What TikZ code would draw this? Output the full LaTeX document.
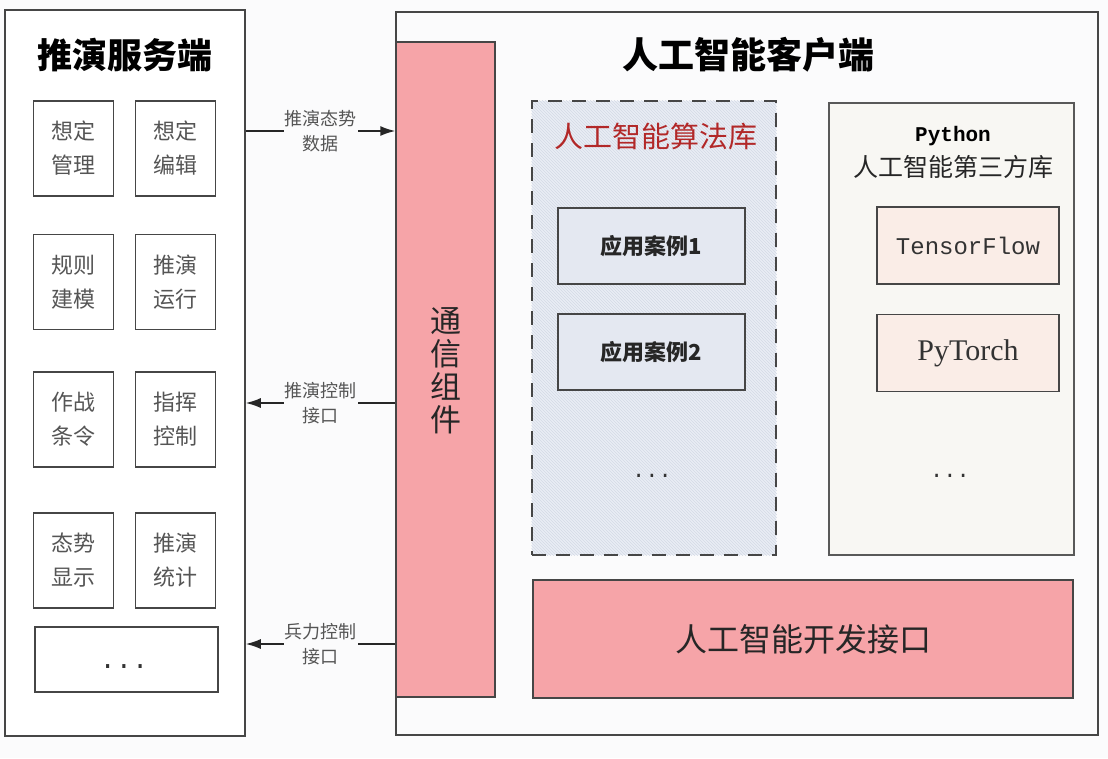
\documentclass[tikz,border=0pt]{standalone}
\usepackage{fontspec}
\setmainfont{Noto Sans CJK SC}
\newfontfamily\cjk{Noto Sans CJK SC}
\newfontfamily\monof{Liberation Mono}
\newfontfamily\seriff{Liberation Serif}
\usetikzlibrary{arrows.meta,patterns}
\definecolor{bgc}{RGB}{251,251,252}
\definecolor{pinkc}{RGB}{246,164,168}
\definecolor{libbg}{RGB}{233,237,245}
\definecolor{appbg}{RGB}{228,232,241}
\definecolor{pybg}{RGB}{248,247,243}
\definecolor{tfbg}{RGB}{250,237,231}
\definecolor{edgec}{RGB}{70,70,70}
\definecolor{txtg}{RGB}{85,85,85}
\definecolor{redt}{RGB}{178,40,40}
\definecolor{hatchc}{RGB}{212,218,230}
\tikzset{
  box/.style={draw=edgec, line width=1.5pt, inner sep=0pt, rectangle},
  smallbox/.style={box, fill=white, minimum width=80pt, minimum height=95pt, align=center,
    font={\fontsize{22}{34}\selectfont}, text=txtg},
  appbox/.style={box, fill=appbg, minimum width=187pt, minimum height=76pt,
    font={\fontsize{22}{26}\selectfont\bfseries}, text=black!85},
  libbox/.style={box, fill=tfbg, minimum width=182pt, minimum height=77pt, text=black!80},
  arrlabel/.style={fill=bgc, inner xsep=1pt, inner ysep=1pt, align=center,
    font={\fontsize{18}{25}\selectfont}, text=txtg},
  conn/.style={line width=1.5pt, draw=black!85},
  tip/.style={-{Latex[length=15pt,width=10pt]}},
}
\begin{document}
\begin{tikzpicture}[x=1pt,y=-1pt]
\useasboundingbox[fill=bgc] (0,0) rectangle (1108,758);
% left server box
\node[box, fill=white, minimum width=240pt, minimum height=726pt] (server) at (125,373) {};
\node[font={\fontsize{35}{40}\selectfont\bfseries}] (servertitle) at (125,55) {推演服务端};
\node[smallbox] (s11) at (73.5,148.5) {想定\\管理};
\node[smallbox] (s12) at (175.5,148.5) {想定\\编辑};
\node[smallbox] (s21) at (73.5,282) {规则\\建模};
\node[smallbox] (s22) at (175.5,282) {推演\\运行};
\node[smallbox] (s31) at (73.5,419.5) {作战\\条令};
\node[smallbox] (s32) at (175.5,419.5) {指挥\\控制};
\node[smallbox] (s41) at (73.5,560.5) {态势\\显示};
\node[smallbox] (s42) at (175.5,560.5) {推演\\统计};
\node[box, fill=white, minimum width=183pt, minimum height=65pt] (sdots) at (126.5,659.5) {};
\node[font={\fontsize{27}{30}\selectfont\monof}, text=black!80] (sdotst) at (124,667) {...};
% right client box
\node[box, fill=bgc, minimum width=702pt, minimum height=723pt] (client) at (747,373.5) {};
\node[font={\fontsize{36}{40}\selectfont\bfseries}] (clienttitle) at (748,55) {人工智能客户端};
% comm component
\node[box, fill=pinkc, minimum width=99pt, minimum height=655pt] (comm) at (445.5,369.5) {};
\node[align=center, font={\fontsize{31}{33}\selectfont}, text=black!85] (commt) at (445.5,371) {通\\信\\组\\件};
% algorithm library (dashed)
\node[box, dashed, dash pattern=on 14pt off 10pt, fill=libbg, minimum width=244pt, minimum height=454pt] (alglib) at (654,328) {};
\fill[pattern=north west lines, pattern color=hatchc] (alglib.north west) rectangle (alglib.south east);
\node[box, dashed, dash pattern=on 14pt off 10pt, minimum width=244pt, minimum height=454pt] (alglibb) at (654,328) {};
\node[font={\fontsize{29}{32}\selectfont}, text=redt] (algtitle) at (656,136) {人工智能算法库};
\node[appbox] (app1) at (651.5,246) {应用案例1};
\node[appbox] (app2) at (651.5,352) {应用案例2};
\node[font={\fontsize{22}{24}\selectfont\monof}, text=black!80] (appdots) at (652,476) {...};
% python library
\node[box, draw=black!65, fill=pybg, minimum width=245pt, minimum height=452pt] (pylib) at (951.5,329) {};
\node[font={\fontsize{21}{24}\selectfont\monof\bfseries}] (pytitle1) at (953,136) {Python};
\node[font={\fontsize{25}{28}\selectfont}, text=black!85] (pytitle2) at (953,167) {人工智能第三方库};
\node[libbox, font={\fontsize{24}{28}\selectfont\monof}] (tf) at (968,245.5) {TensorFlow};
\node[libbox, font={\fontsize{30}{32}\selectfont\seriff}] (pt) at (968,353) {PyTorch};
\node[font={\fontsize{22}{24}\selectfont\monof}, text=black!80] (pydots) at (950,476) {...};
% AI dev interface
\node[box, fill=pinkc, minimum width=540pt, minimum height=118pt, font={\fontsize{32}{36}\selectfont}, text=black!85] (dev) at (803,639) {人工智能开发接口};
% connectors
\coordinate (a1l) at (server.east |- 0,131);
\coordinate (a1r) at (comm.west |- 0,131);
\draw[conn, tip] (a1l) -- node[arrlabel] (lab1) {推演态势\\数据} (a1r);
\coordinate (a2l) at (server.east |- 0,403);
\coordinate (a2r) at (comm.west |- 0,403);
\draw[conn, tip] (a2r) -- node[arrlabel] (lab2) {推演控制\\接口} (a2l);
\coordinate (a3l) at (server.east |- 0,644);
\coordinate (a3r) at (comm.west |- 0,644);
\draw[conn, tip] (a3r) -- node[arrlabel] (lab3) {兵力控制\\接口} (a3l);
\end{tikzpicture}
\end{document}
